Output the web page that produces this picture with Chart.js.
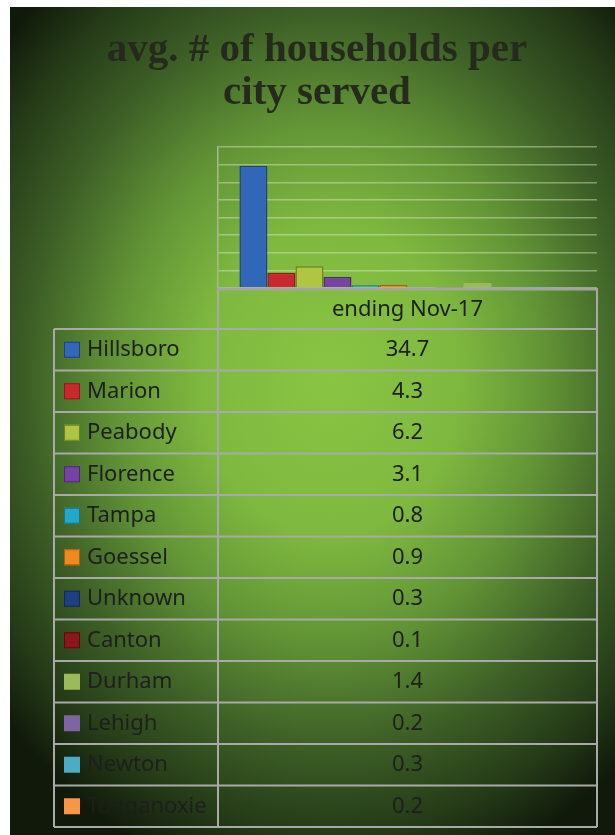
<!DOCTYPE html>
<html>
<head>
<meta charset="utf-8">
<script src="https://cdn.jsdelivr.net/npm/chart.js@4/dist/chart.umd.min.js"></script>
<style>
  html, body { margin: 0; padding: 0; background: #fff; }
  #wrap { width: 615px; height: 835px; }
</style>
</head>
<body>
<div id="wrap"><canvas id="myChart" width="615" height="835"></canvas></div>
<script>
const chartTitle = ['avg. # of households per', 'city served'];
const categories = ['ending Nov-17'];
const cities = ['Hillsboro', 'Marion', 'Peabody', 'Florence', 'Tampa', 'Goessel',
  'Unknown', 'Canton', 'Durham', 'Lehigh', 'Newton', 'Tonganoxie'];
const households = [34.7, 4.3, 6.2, 3.1, 0.8, 0.9, 0.3, 0.1, 1.4, 0.2, 0.3, 0.2];
const valueLabels = ['34.7', '4.3', '6.2', '3.1', '0.8', '0.9', '0.3', '0.1', '1.4', '0.2', '0.3', '0.2'];

const fills = ['#3266b6', '#c9292e', '#b0c540', '#7443a3', '#22a9c9', '#f0891c',
  '#1d4180', '#8a171b', '#9bbb59', '#8064a2', '#4bacc6', '#f79646'];
const edges = ['#1c4283', '#8c1a1d', '#6e8227', '#4c2a70', '#157590', '#b05f0e',
  '#102a55', '#5a0d10', '#9bbb59', '#8064a2', '#4bacc6', '#f79646'];

const ctx = document.getElementById('myChart');

// green spotlight backdrop
const backdrop = {
  id: 'backdrop',
  beforeDraw(chart) {
    const c = chart.ctx;
    c.save();
    c.fillStyle = '#ffffff';
    c.fillRect(0, 0, chart.width, chart.height);
    c.beginPath();
    c.rect(10, 7, chart.width - 10, chart.height - 7);
    c.clip();
    c.translate(330, 380);
    c.scale(430, 520);
    const g = c.createRadialGradient(0, 0, 0, 0, 0, 1);
    g.addColorStop(0, '#89c543');
    g.addColorStop(0.3, '#7fb83f');
    g.addColorStop(0.5, '#629436');
    g.addColorStop(0.7, '#3e6027');
    g.addColorStop(0.88, '#243917');
    g.addColorStop(1, '#10190a');
    c.fillStyle = g;
    c.fillRect(-2, -2, 4, 4);
    c.restore();

    // title, centred on the whole backdrop
    c.save();
    c.fillStyle = '#252a1d';
    c.font = 'bold 41px "Liberation Serif"';
    c.textAlign = 'center';
    c.textBaseline = 'middle';
    c.fillText(chartTitle[0], 317, 50);
    c.fillText(chartTitle[1], 317, 93);
    c.restore();
  }
};

// data table under the plot, like excel's "data table with legend keys"
const dataTable = {
  id: 'dataTable',
  afterDraw(chart) {
    const c = chart.ctx;
    const area = chart.chartArea;
    const x0 = 54, x1 = area.left, x2 = area.right;
    const top = area.bottom;
    const headH = 41;
    const rowH = 41.5;
    const y0 = top + headH;
    const yEnd = y0 + rowH * cities.length;

    c.save();
    c.strokeStyle = '#a9a9a9';
    c.lineWidth = 2;
    c.beginPath();
    c.moveTo(x1, top); c.lineTo(x1, yEnd);
    c.moveTo(x2, top); c.lineTo(x2, yEnd);
    c.moveTo(x0, y0); c.lineTo(x0, yEnd);
    for (let i = 0; i <= cities.length; i++) {
      const y = y0 + i * rowH;
      c.moveTo(x0, y); c.lineTo(x2, y);
    }
    c.stroke();
    // floor of the plot
    c.lineWidth = 3;
    c.strokeStyle = '#a4a4a4';
    c.beginPath();
    c.moveTo(x1, top + 1); c.lineTo(x2, top + 1);
    c.stroke();

    c.fillStyle = '#1e1e1e';
    c.font = '22px "Noto Sans"';
    c.textBaseline = 'middle';
    c.textAlign = 'center';
    const mid = (x1 + x2) / 2;
    c.fillText(categories[0], mid, top + headH / 2 + 1);

    cities.forEach((name, i) => {
      const cy = y0 + i * rowH + rowH / 2;
      c.fillStyle = fills[i];
      c.fillRect(64, cy - 8, 16, 16);
      if (i < 8) {
        c.strokeStyle = edges[i];
        c.lineWidth = 1;
        c.strokeRect(64.5, cy - 7.5, 15, 15);
      }
      c.fillStyle = '#1e1e1e';
      c.textAlign = 'left';
      c.fillText(name, 87, cy);
      c.textAlign = 'center';
      c.fillText(valueLabels[i], mid, cy);
    });
    c.restore();
  }
};

const data = {
  labels: categories,
  datasets: cities.map((name, i) => ({
    label: name,
    data: [households[i]],
    backgroundColor: fills[i],
    borderColor: edges[i],
    borderWidth: i < 8 ? 1.5 : 0,
  }))
};

new Chart(ctx, {
  type: 'bar',
  data: data,
  plugins: [backdrop, dataTable],
  options: {
    responsive: false,
    animation: false,
    categoryPercentage: 0.887,
    barPercentage: 1,
    layout: {
      padding: { left: 218, right: 18, bottom: 547, top: 147 }
    },
    scales: {
      x: { display: false },
      y: {
        min: 0,
        max: 40,
        display: true,
        ticks: { display: false, stepSize: 5 },
        grid: { color: 'rgba(225,235,205,0.45)', lineWidth: 1.5, drawTicks: false },
        border: { display: true, color: '#a8b89a', width: 1.5 }
      }
    },
    plugins: {
      legend: { display: false },
      tooltip: { enabled: false },
      title: { display: false }
    }
  }
});
</script>
</body>
</html>
